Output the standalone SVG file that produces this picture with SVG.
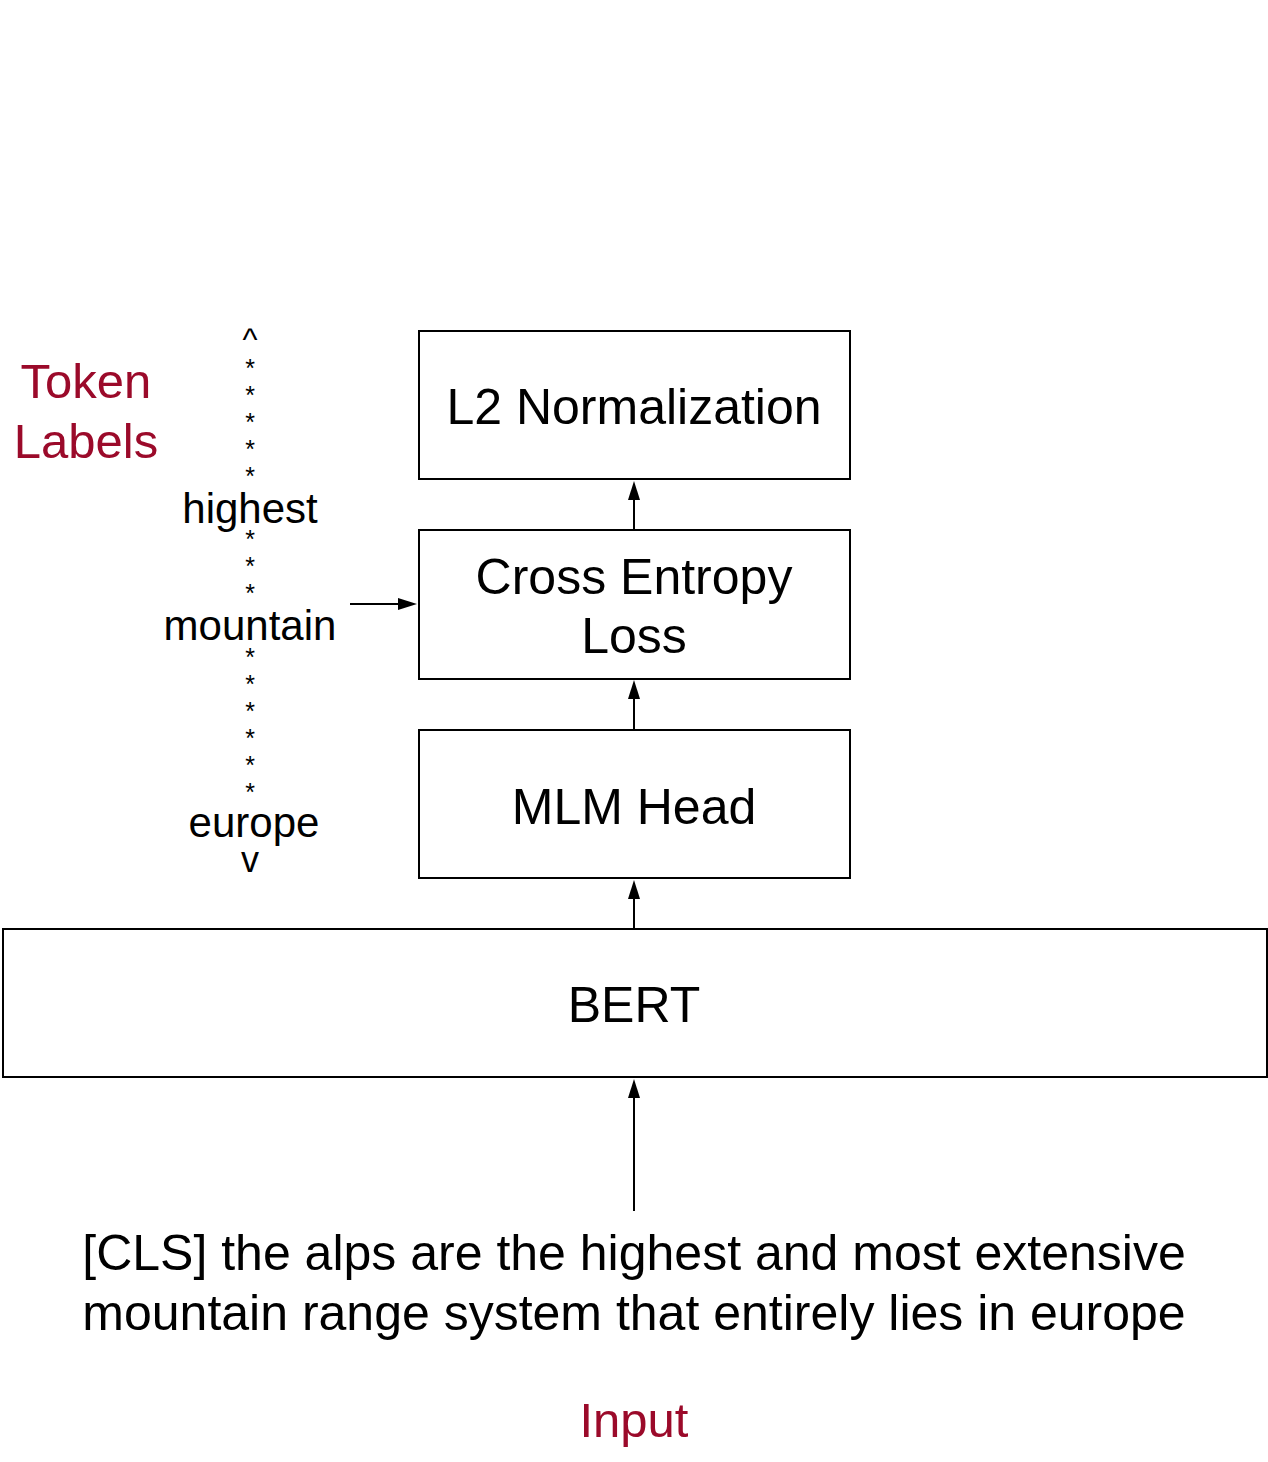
<svg xmlns="http://www.w3.org/2000/svg" width="1268" height="1462" viewBox="0 0 1268 1462">
<style>
text{font-family:"Liberation Sans",Arial,Helvetica,sans-serif;fill:#000}
.box{fill:#fff;stroke:#000;stroke-width:2}
.lbl{font-size:50px;text-anchor:middle}
.red{fill:#9b0a2a;font-size:49px;text-anchor:middle}
.tok{font-size:42px;text-anchor:middle}
.ast{font-size:25px;text-anchor:middle}
.ln{stroke:#000;stroke-width:2;fill:none}
</style>
<rect width="1268" height="1462" fill="#fff"/>
<g id="connectors">
<line class="ln" x1="634" y1="530" x2="634" y2="495"/>
<path d="M634,481 L628,500 L640,500 z" fill="#000"/>
<line class="ln" x1="634" y1="730" x2="634" y2="695"/>
<path d="M634,680 L628,699 L640,699 z" fill="#000"/>
<line class="ln" x1="634" y1="929" x2="634" y2="895"/>
<path d="M634,880 L628,899 L640,899 z" fill="#000"/>
<line class="ln" x1="634" y1="1211" x2="634" y2="1094"/>
<path d="M634,1079 L628,1098 L640,1098 z" fill="#000"/>
<line class="ln" x1="350" y1="604" x2="402" y2="604"/>
<path d="M417,604 L398,598 L398,610 z" fill="#000"/>
</g>
<g id="l2norm">
<rect class="box" x="419" y="331" width="431" height="148"/>
<text class="lbl" x="634" y="424">L2 Normalization</text>
</g>
<g id="celoss">
<rect class="box" x="419" y="530" width="431" height="149"/>
<text class="lbl" x="634" y="594">Cross Entropy</text>
<text class="lbl" x="634" y="653">Loss</text>
</g>
<g id="mlmhead">
<rect class="box" x="419" y="730" width="431" height="148"/>
<text class="lbl" x="634" y="824">MLM Head</text>
</g>
<g id="bert">
<rect class="box" x="3" y="929" width="1264" height="148"/>
<text class="lbl" x="634" y="1022">BERT</text>
</g>
<g id="token-labels">
<text class="red" x="86" y="398">Token</text>
<text class="red" x="86" y="458">Labels</text>
<text class="tok" x="250" y="350" style="font-size:32px">^</text>
<text class="ast" x="250" y="377">*</text>
<text class="ast" x="250" y="404">*</text>
<text class="ast" x="250" y="431">*</text>
<text class="ast" x="250" y="458">*</text>
<text class="ast" x="250" y="485">*</text>
<text class="tok" x="250" y="523">highest</text>
<text class="ast" x="250" y="548">*</text>
<text class="ast" x="250" y="575">*</text>
<text class="ast" x="250" y="602">*</text>
<text class="tok" x="250" y="640">mountain</text>
<text class="ast" x="250" y="666">*</text>
<text class="ast" x="250" y="693">*</text>
<text class="ast" x="250" y="720">*</text>
<text class="ast" x="250" y="747">*</text>
<text class="ast" x="250" y="774">*</text>
<text class="ast" x="250" y="801">*</text>
<text class="tok" x="254" y="837">europe</text>
<text class="tok" x="250" y="872" style="font-size:36px">v</text>
</g>
<g id="input">
<text class="lbl" x="634" y="1270">[CLS] the alps are the highest and most extensive</text>
<text class="lbl" x="634" y="1330">mountain range system that entirely lies in europe</text>
<text class="red" x="634" y="1437">Input</text>
</g>
</svg>
